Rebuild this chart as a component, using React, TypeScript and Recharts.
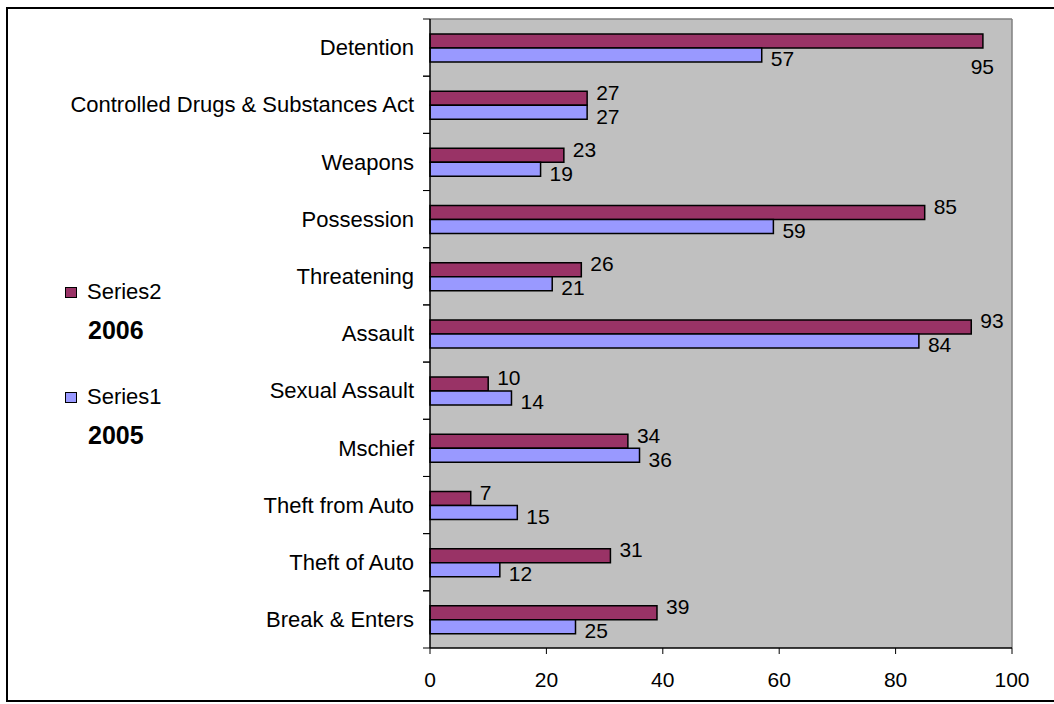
import React from 'react';
import { BarChart, Bar, XAxis, YAxis, CartesianGrid, LabelList, Legend } from 'recharts';

const CATEGORIES = [
  'Detention',
  'Controlled Drugs & Substances Act',
  'Weapons',
  'Possession',
  'Threatening',
  'Assault',
  'Sexual Assault',
  'Mschief',
  'Theft from Auto',
  'Theft of Auto',
  'Break & Enters',
];
const SERIES2_2006 = [95, 27, 23, 85, 26, 93, 10, 34, 7, 31, 39];
const SERIES1_2005 = [57, 27, 19, 59, 21, 84, 14, 36, 15, 12, 25];
const X_TICKS = [0, 20, 40, 60, 80, 100];
const SERIES_NAMES = ['Series2', 'Series1'];
const SERIES_YEARS = ['2006', '2005'];

const data = CATEGORIES.map((name, i) => ({
  name,
  series2: SERIES2_2006[i],
  series1: SERIES1_2005[i],
}));

const W = 1054;
const H = 704;
const MARGIN = { top: 19, right: 42, bottom: 0, left: 10 };
const X_AXIS_H = 56;
const Y_AXIS_W = 420;
const AXIS_X = MARGIN.left + Y_AXIS_W;
const PLOT_RIGHT = W - MARGIN.right;
const BAND = (H - MARGIN.top - MARGIN.bottom - X_AXIS_H) / CATEGORIES.length;
const FONT = '"Liberation Sans", Arial, Helvetica, sans-serif';
const FS = 21;
const CAT_FS = 22;

// category label centred in its band, tick marks on the band edges
const CategoryTick = ({ payload }: any) => {
  const yc = payload.coordinate;
  return (
    <g>
      <line x1={AXIS_X - 7} x2={AXIS_X} y1={yc - BAND / 2} y2={yc - BAND / 2} stroke="#000" />
      <line x1={AXIS_X - 7} x2={AXIS_X} y1={yc + BAND / 2} y2={yc + BAND / 2} stroke="#000" />
      <text x={AXIS_X - 16} y={yc} dy="0.35em" textAnchor="end" fontSize={CAT_FS} fontFamily={FONT} fill="#000">
        {payload.value}
      </text>
    </g>
  );
};

// value to the right of the bar end; pulled back inside the plot when it would overflow
const valueLabel = (shift: number) => (props: any) => {
  const { x, y, width, height, value } = props;
  const textW = String(value).length * FS * 0.556;
  let tx = x + width + 9;
  let ty = y + height / 2 + shift;
  if (tx + textW > PLOT_RIGHT) {
    tx = PLOT_RIGHT - textW - 18;
    ty = y + height / 2 + 26;
  }
  return (
    <text x={tx} y={ty} dy="0.35em" fontSize={FS} fontFamily={FONT} fill="#000">
      {value}
    </text>
  );
};

const YearLegend = ({ payload }: any) => {
  const items = [...(payload || [])].sort(
    (a: any, b: any) => SERIES_NAMES.indexOf(a.value) - SERIES_NAMES.indexOf(b.value)
  );
  return (
    <div style={{ fontFamily: FONT, fontSize: CAT_FS, color: '#000' }}>
      {items.map((entry: any, i: number) => (
        <div key={entry.value} style={{ marginTop: i === 0 ? 0 : 41 }}>
          <div style={{ display: 'flex', alignItems: 'center', height: 24 }}>
            <span
              style={{
                display: 'inline-block',
                width: 10,
                height: 9,
                border: '1.5px solid #000',
                background: entry.color,
                marginRight: 10,
              }}
            />
            <span>{entry.value}</span>
          </div>
          <div style={{ fontWeight: 'bold', fontSize: 25, lineHeight: '28px', marginTop: 12, marginLeft: 23 }}>
            {SERIES_YEARS[SERIES_NAMES.indexOf(entry.value)]}
          </div>
        </div>
      ))}
    </div>
  );
};

export default function App() {
  return (
    <div style={{ position: 'absolute', left: 0, top: 0, width: W, height: H, background: '#fff', overflow: 'hidden' }}>
      <div
        style={{
          position: 'absolute',
          left: 6,
          top: 7,
          width: W + 20,
          height: H - 9,
          border: '2px solid #000',
          boxSizing: 'border-box',
        }}
      />
      <BarChart
        width={W}
        height={H}
        data={data}
        layout="vertical"
        margin={MARGIN}
        barSize={14}
        barGap={0}
        style={{ fontFamily: FONT }}
      >
        <CartesianGrid
          fill="#C0C0C0"
          fillOpacity={1}
          stroke="#808080"
          strokeWidth={1.5}
          horizontalCoordinatesGenerator={({ offset }: any) => [offset?.top ?? MARGIN.top]}
          verticalCoordinatesGenerator={({ offset }: any) => [offset ? offset.left + offset.width : PLOT_RIGHT]}
        />
        <XAxis
          type="number"
          domain={[0, 100]}
          ticks={X_TICKS}
          height={X_AXIS_H}
          tickSize={6}
          tickMargin={18}
          axisLine={{ stroke: '#000', strokeWidth: 1.5 }}
          tickLine={{ stroke: '#000' }}
          tick={{ fill: '#000', fontSize: FS, fontFamily: FONT }}
        />
        <YAxis
          type="category"
          dataKey="name"
          width={Y_AXIS_W}
          interval={0}
          tickLine={false}
          axisLine={{ stroke: '#000', strokeWidth: 1.5 }}
          tick={<CategoryTick />}
        />
        <Legend
          layout="horizontal"
          verticalAlign="middle"
          align="center"
          content={<YearLegend />}
          wrapperStyle={{ left: 65, top: 280, width: 160 }}
        />
        <Bar dataKey="series2" name="Series2" fill="#993366" stroke="#000" strokeWidth={1.5} isAnimationActive={false}>
          <LabelList dataKey="series2" content={valueLabel(-6)} />
        </Bar>
        <Bar dataKey="series1" name="Series1" fill="#9999FF" stroke="#000" strokeWidth={1.5} isAnimationActive={false}>
          <LabelList dataKey="series1" content={valueLabel(4)} />
        </Bar>
      </BarChart>
    </div>
  );
}
